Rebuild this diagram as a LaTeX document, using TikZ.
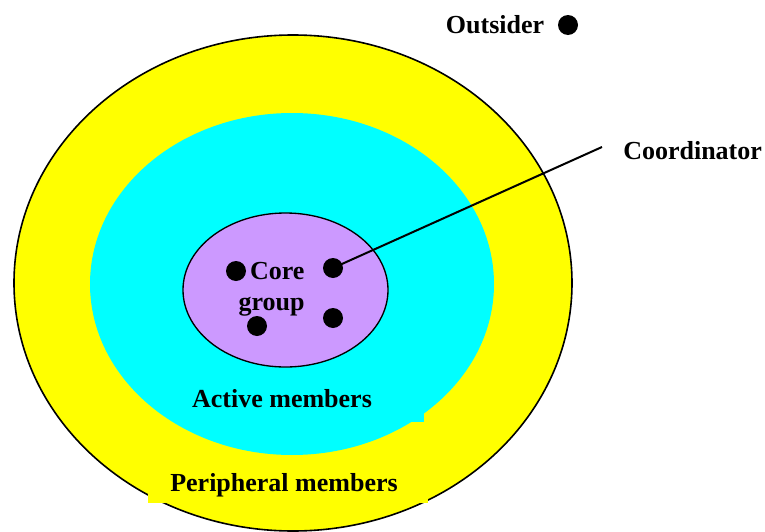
\documentclass[tikz,border=0pt]{standalone}
\usepackage{fontspec}
\setmainfont{Liberation Serif}
\usetikzlibrary{positioning}
\definecolor{coreviolet}{RGB}{204,153,255}
\definecolor{activecyan}{RGB}{0,255,255}
\definecolor{periyellow}{RGB}{255,255,0}
\tikzset{
  member/.style={circle,fill=black,inner sep=0pt,minimum size=15pt},
  lbl/.style={font=\fontsize{19.5}{23}\selectfont\bfseries,inner sep=0pt}
}
\begin{document}
\begin{tikzpicture}[x=.75pt,y=-.75pt]
  \useasboundingbox (0,0) rectangle (765,532);
  % rings of the community
  \draw[fill=periyellow,line width=1.2pt] (293,283) ellipse [x radius=279,y radius=248];
  \fill[activecyan] (292,284) ellipse [x radius=202,y radius=171];
  \draw[fill=coreviolet,line width=1pt] (285.5,290) ellipse [x radius=102.5,y radius=77];
  % label patches
  \fill[activecyan] (180,380) rectangle (424,422);
  \fill[periyellow] (148,468) rectangle (428,503);
  \node[lbl] (active) at (282,399) {Active members};
  \node[lbl] (peri) at (284,485) {Peripheral members};
  \node[lbl,align=right] (core) at (271.5,289) {Core\\group};
  % members
  \node[member] (m1) at (236,271) {};
  \node[member] (m2) at (333,268) {};
  \node[member] (m3) at (257,326) {};
  \node[member] (m4) at (333,318) {};
  \node[member] (out) at (568,25) {};
  \node[lbl,left=10pt of out] (outsider) {Outsider};
  \node[lbl,anchor=west] (coord) at (623,151) {Coordinator};
  \coordinate (tip) at (602,147);
  \draw[line width=1.5pt] (m2.center) -- (tip);
\end{tikzpicture}
\end{document}
